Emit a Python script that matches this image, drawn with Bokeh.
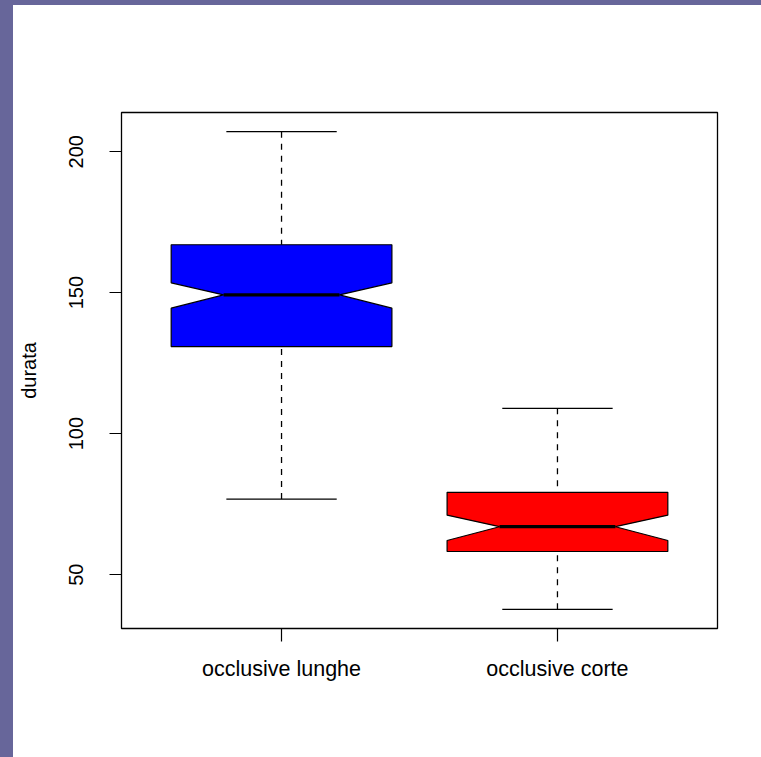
from bokeh.plotting import figure
from bokeh.models import Range1d, FixedTicker, Div
from bokeh.layouts import row, column
from bokeh.embed import file_html
from bokeh.resources import INLINE

# ---- data ----
categories = ["occlusive lunghe", "occlusive corte"]
positions = [1, 2]
whisker_low = [76.8, 37.7]
q1 = [130.9, 58.2]
median = [149.2, 67.0]
q3 = [167.0, 79.2]
whisker_high = [207.1, 109.0]
notch_low = [144.5, 62.1]
notch_high = [153.5, 71.1]
box_colors = ["#0000FF", "#FF0000"]
y_ticks = [50, 100, 150, 200]
y_label = "durata"

# ---- styles ----
FONT = "Liberation Sans"
PURPLE = "#67669A"
HW, NW, CW = 0.4, 0.21, 0.2  # box half width, notch half width, cap half width

p = figure(width=748, height=752, output_backend="svg", toolbar_location=None,
           x_range=Range1d(0.42, 2.58), y_range=Range1d(30.9, 213.9),
           min_border_left=108, min_border_right=44, min_border_top=107, min_border_bottom=129)
p.margin = 0
p.background_fill_color = "white"
p.border_fill_color = "white"
p.outline_line_color = "black"
p.outline_line_width = 1.3
p.xgrid.grid_line_color = None
p.ygrid.grid_line_color = None

# notched boxes
xs, ys = [], []
for c, a, nl, m, nh, b in zip(positions, q1, notch_low, median, notch_high, q3):
    xs.append([c - HW, c - HW, c - NW, c - HW, c - HW, c + HW, c + HW, c + NW, c + HW, c + HW])
    ys.append([a, nl, m, nh, b, b, nh, m, nl, a])
p.patches(xs, ys, fill_color=box_colors, line_color="black", line_width=1.2)

# medians
p.segment(x0=[c - NW for c in positions], y0=median, x1=[c + NW for c in positions], y1=median,
          line_color="black", line_width=3.3)

# whiskers (dashed, drawn from whisker end toward the box)
p.segment(x0=positions, y0=whisker_high, x1=positions, y1=q3, line_color="black",
          line_width=1.3, line_dash="6 6")
p.segment(x0=positions, y0=whisker_low, x1=positions, y1=q1, line_color="black",
          line_width=1.3, line_dash="6 6")

# caps
for w in (whisker_high, whisker_low):
    p.segment(x0=[c - CW for c in positions], y0=w, x1=[c + CW for c in positions], y1=w,
              line_color="black", line_width=1.3)

# axes
xa = p.xaxis[0]
xa.ticker = FixedTicker(ticks=positions)
xa.major_label_overrides = {pos: lab for pos, lab in zip(positions, categories)}
xa.axis_line_color = None
xa.major_tick_out = 13
xa.major_tick_in = 0
xa.major_tick_line_width = 1.2
xa.minor_tick_line_color = None
xa.major_label_text_font = FONT
xa.major_label_text_font_size = "21.5px"
xa.major_label_text_color = "black"
xa.major_label_standoff = 15

ya = p.yaxis[0]
ya.ticker = FixedTicker(ticks=y_ticks)
ya.axis_line_color = None
ya.major_tick_out = 12
ya.major_tick_in = 0
ya.major_tick_line_width = 1.2
ya.minor_tick_line_color = None
ya.major_label_orientation = "vertical"
ya.major_label_text_font = FONT
ya.major_label_text_font_size = "20px"
ya.major_label_text_color = "black"
ya.major_label_standoff = 26
ya.axis_label = y_label
ya.axis_label_text_font = FONT
ya.axis_label_text_font_size = "20px"
ya.axis_label_text_font_style = "normal"
ya.axis_label_text_color = "black"
ya.axis_label_standoff = 27

# purple screenshot border (top and left strips)
top_strip = Div(text="", width=761, height=5, margin=0, styles={"background-color": PURPLE})
left_strip = Div(text="", width=13, height=752, margin=0, styles={"background-color": PURPLE})
layout = column(top_strip, row(left_strip, p, spacing=0), spacing=0)

open("out.html", "w").write(file_html(layout, INLINE))
